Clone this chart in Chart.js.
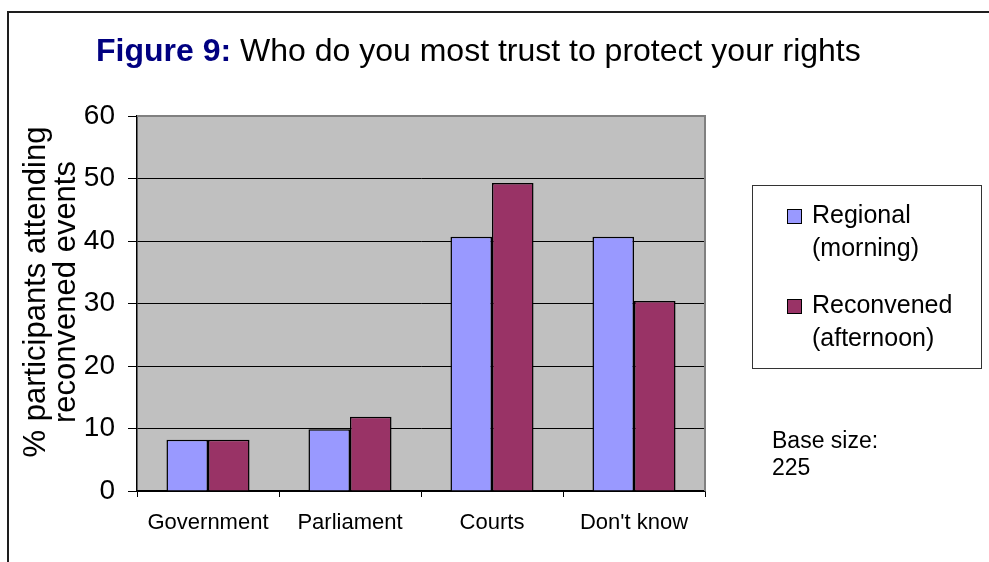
<!DOCTYPE html>
<html>
<head>
<meta charset="utf-8">
<script src="https://cdn.jsdelivr.net/npm/chart.js@4/dist/chart.umd.min.js"></script>
<style>
  html, body { margin: 0; padding: 0; background: #fff; overflow: hidden; }
  body { width: 989px; height: 562px; position: relative; font-family: "Liberation Sans", Arial, sans-serif; }
  #wrap { position: absolute; left: 0; top: 0; width: 989px; height: 562px; }
  #frame { position: absolute; left: 7px; top: 11px; width: 1000px; height: 600px; border: 2px solid #1e1e1e; box-sizing: border-box; pointer-events: none; }
  .txt { position: absolute; white-space: pre; color: #000; }
  #title { left: 96px; top: 32px; font-size: 32px; line-height: 36px; }
  #title b { color: #000080; }
  #ytitle { left: -160px; top: 262px; width: 420px; height: 60px; font-size: 31px; line-height: 30px; text-align: center; transform: rotate(-90deg); }
  #legend { position: absolute; left: 752px; top: 185px; width: 230px; height: 184px; border: 1px solid #333; box-sizing: border-box; }
  .sw { position: absolute; width: 15px; height: 15px; border: 1.5px solid #000; box-sizing: border-box; }
  .lg { position: absolute; font-size: 25px; line-height: 33px; }
  #base { left: 772px; top: 427px; font-size: 23px; line-height: 27px; }
</style>
</head>
<body>
<div id="wrap"><canvas id="c" width="989" height="562"></canvas></div>
<div id="frame"></div>
<div id="title" class="txt"></div>
<div id="ytitle" class="txt"></div>
<div id="legend"></div>
<div id="base" class="txt"></div>
<script>
// ---- data ----
const categories = ["Government", "Parliament", "Courts", "Don't know"];
const regionalMorning = [8.2, 9.9, 40.7, 40.7];
const reconvenedAfternoon = [8.2, 11.9, 49.3, 30.4];
const seriesNames = [["Regional", "(morning)"], ["Reconvened", "(afternoon)"]];
const seriesColors = ["#9999FF", "#993366"];
const yTicks = [0, 10, 20, 30, 40, 50, 60];
const titleBold = "Figure 9:";
const titleRest = " Who do you most trust to protect your rights";
const yAxisTitle = ["% participants attending", "reconvened events"];
const baseNote = ["Base size:", "225"];

// ---- text overlays ----
document.getElementById('title').innerHTML = '<b>' + titleBold + '</b>' + titleRest;
document.getElementById('ytitle').textContent = yAxisTitle.join('\n');
document.getElementById('base').textContent = baseNote.join('\n');

const legend = document.getElementById('legend');
const itemTops = [12, 102];
seriesNames.forEach((lines, i) => {
  const sw = document.createElement('div');
  sw.className = 'sw';
  sw.style.left = (787 - 752 - 1) + 'px';
  sw.style.top = (itemTops[i] + 11) + 'px';
  sw.style.background = seriesColors[i];
  legend.appendChild(sw);
  const t = document.createElement('div');
  t.className = 'lg txt';
  t.style.left = (812 - 752 - 1) + 'px';
  t.style.top = itemTops[i] + 'px';
  t.textContent = lines.join('\n');
  legend.appendChild(t);
});

// ---- plot background plugin ----
const plotBg = {
  id: 'plotBg',
  beforeDraw(chart) {
    const { ctx, chartArea: a } = chart;
    ctx.save();
    ctx.fillStyle = '#C0C0C0';
    ctx.fillRect(a.left, a.top, a.right - a.left, a.bottom - a.top);
    ctx.restore();
  },
  afterDatasetsDraw(chart) {
    const { ctx, chartArea: a } = chart;
    ctx.save();
    ctx.strokeStyle = '#808080';
    ctx.lineWidth = 2;
    ctx.beginPath();
    ctx.moveTo(a.left, a.top);
    ctx.lineTo(a.right, a.top);
    ctx.lineTo(a.right, a.bottom);
    ctx.stroke();
    ctx.restore();
  }
};

new Chart(document.getElementById('c'), {
  type: 'bar',
  data: {
    labels: categories,
    datasets: [
      { label: seriesNames[0].join(' '), data: regionalMorning, backgroundColor: seriesColors[0], borderColor: '#000', borderWidth: 1.5, barPercentage: 1, categoryPercentage: 0.585 },
      { label: seriesNames[1].join(' '), data: reconvenedAfternoon, backgroundColor: seriesColors[1], borderColor: '#000', borderWidth: 1.5, barPercentage: 1, categoryPercentage: 0.585 }
    ]
  },
  options: {
    responsive: false,
    animation: false,
    devicePixelRatio: 1,
    layout: { padding: { left: 0, top: 116, right: 284, bottom: 0 } },
    plugins: { legend: { display: false }, tooltip: { enabled: false }, title: { display: false } },
    scales: {
      x: {
        afterFit(s) { s.height = 71; },
        grid: { offset: true, drawOnChartArea: false, drawTicks: true, tickLength: 6, tickColor: '#000', tickWidth: 1 },
        border: { display: true, color: '#000', width: 1.5 },
        ticks: { color: '#000', font: { family: 'Liberation Sans', size: 22 }, padding: 13, maxRotation: 0 }
      },
      y: {
        min: 0, max: 60,
        afterFit(s) { s.width = 137; },
        afterBuildTicks(s) { s.ticks = yTicks.map(v => ({ value: v })); },
        grid: {
          color: ctx => (ctx.tick && ctx.tick.value === 60) ? 'rgba(0,0,0,0)' : '#000',
          lineWidth: 1,
          drawTicks: true, tickLength: 9, tickColor: '#000', tickWidth: 1
        },
        border: { display: true, color: '#000', width: 1.5 },
        ticks: { color: '#000', font: { family: 'Liberation Sans', size: 28 }, padding: 13 }
      }
    }
  },
  plugins: [plotBg]
});
</script>
</body>
</html>
